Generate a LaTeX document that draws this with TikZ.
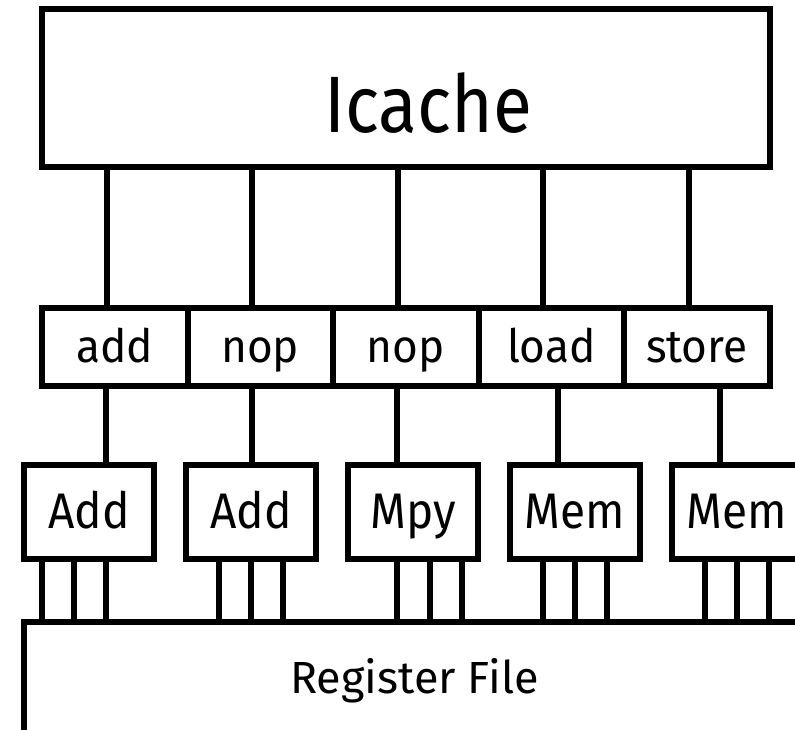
\documentclass[tikz,border=0pt]{standalone}
\usepackage{fontspec}
\setmainfont{Fira Sans}
\usetikzlibrary{positioning}

% labels are set a little narrower than the font's own width
\newcommand{\narrowtext}[2]{\scalebox{#1}[1]{#2}}

\tikzset{
  unit/.style={draw, line width=6pt, outer sep=0pt, inner sep=0pt},
  wire/.style={line width=6pt},
  instr/.style={unit, minimum width=145.5pt, minimum height=78.5pt,
    font=\fontsize{46}{50}\selectfont, text height=34pt, text depth=3.5pt},
  fu/.style={unit, minimum width=130pt, minimum height=94pt,
    font=\fontsize{50}{56}\selectfont, text height=35pt, text depth=3pt}
}

\begin{document}
\begin{tikzpicture}[x=1pt, y=-1pt]
        \useasboundingbox (0,0) rectangle (795,730);
        \clip (0,0) rectangle (795,730);

        % Instruction cache
        \node[unit, minimum width=728pt, minimum height=157.5pt] (icache) at (406,88) {};
        \node[anchor=base, inner sep=0pt, font=\fontsize{80}{90}\selectfont] (icachetext) at (428,133) {\narrowtext{0.89}{Icache}};

        % Instruction word
        \node[instr] (i1) at (114.75,346.75) {\narrowtext{0.96}{add}};
        \node[instr, right=0pt of i1] (i2) {\narrowtext{0.96}{nop}};
        \node[instr, right=0pt of i2] (i3) {\narrowtext{0.96}{nop}};
        \node[instr, right=0pt of i3] (i4) {\narrowtext{0.96}{load}};
        \node[instr, right=0pt of i4] (i5) {\narrowtext{0.96}{store}};

        % Functional units
        \node[fu] (fu1) at (89,512) {\narrowtext{0.92}{Add}};
        \node[fu, right=32pt of fu1] (fu2) {\narrowtext{0.92}{Add}};
        \node[fu, right=32pt of fu2] (fu3) {\narrowtext{0.92}{Mpy}};
        \node[fu, right=32pt of fu3] (fu4) {\narrowtext{0.92}{Mem}};
        \node[fu, right=32pt of fu4] (fu5) {\narrowtext{0.92}{Mem}};

        % Register file
        \node[unit, minimum width=816pt, minimum height=111pt] (rf) at (432,677.5) {};
        \node[anchor=base, inner sep=0pt, font=\fontsize{45}{50}\selectfont] (rftext) at (414.5,693) {Register File};

        % Icache -> instruction slots
        \draw[wire] ([xshift=-8pt]i1.north |- icache.south) -- ([xshift=-8pt]i1.north);
        \draw[wire] ([xshift=-8pt]i2.north |- icache.south) -- ([xshift=-8pt]i2.north);
        \draw[wire] ([xshift=-8pt]i3.north |- icache.south) -- ([xshift=-8pt]i3.north);
        \draw[wire] ([xshift=-8pt]i4.north |- icache.south) -- ([xshift=-8pt]i4.north);
        \draw[wire] ([xshift=-8pt]i5.north |- icache.south) -- ([xshift=-8pt]i5.north);

        % Slots -> units
        \draw[wire] ([xshift=-8.5pt]i1.south) -- ([xshift=-8.5pt]i1.south |- fu1.north);
        \draw[wire] ([xshift=-8pt]i2.south) -- ([xshift=-8pt]i2.south |- fu2.north);
        \draw[wire] ([xshift=-9pt]i3.south) -- ([xshift=-9pt]i3.south |- fu3.north);
        \draw[wire] ([xshift=7pt]i4.south) -- ([xshift=7pt]i4.south |- fu4.north);
        \draw[wire] ([xshift=23.5pt]i5.south) -- ([xshift=23.5pt]i5.south |- fu5.north);

        % Register ports
        \draw[wire] ([xshift=-47pt]fu1.south) -- ([xshift=-47pt]fu1.south |- rf.north)
                    ([xshift=-15pt]fu1.south) -- ([xshift=-15pt]fu1.south |- rf.north)
                    ([xshift=17pt]fu1.south) -- ([xshift=17pt]fu1.south |- rf.north);
        \draw[wire] ([xshift=-32pt]fu2.south) -- ([xshift=-32pt]fu2.south |- rf.north)
                    (fu2.south) -- (fu2.south |- rf.north)
                    ([xshift=32pt]fu2.south) -- ([xshift=32pt]fu2.south |- rf.north);
        \draw[wire] ([xshift=-16pt]fu3.south) -- ([xshift=-16pt]fu3.south |- rf.north)
                    ([xshift=17pt]fu3.south) -- ([xshift=17pt]fu3.south |- rf.north)
                    ([xshift=49pt]fu3.south) -- ([xshift=49pt]fu3.south |- rf.north);
        \draw[wire] ([xshift=-32pt]fu4.south) -- ([xshift=-32pt]fu4.south |- rf.north)
                    (fu4.south) -- (fu4.south |- rf.north)
                    ([xshift=32pt]fu4.south) -- ([xshift=32pt]fu4.south |- rf.north);
        \draw[wire] ([xshift=-32pt]fu5.south) -- ([xshift=-32pt]fu5.south |- rf.north)
                    (fu5.south) -- (fu5.south |- rf.north)
                    ([xshift=32pt]fu5.south) -- ([xshift=32pt]fu5.south |- rf.north);
\end{tikzpicture}
\end{document}
